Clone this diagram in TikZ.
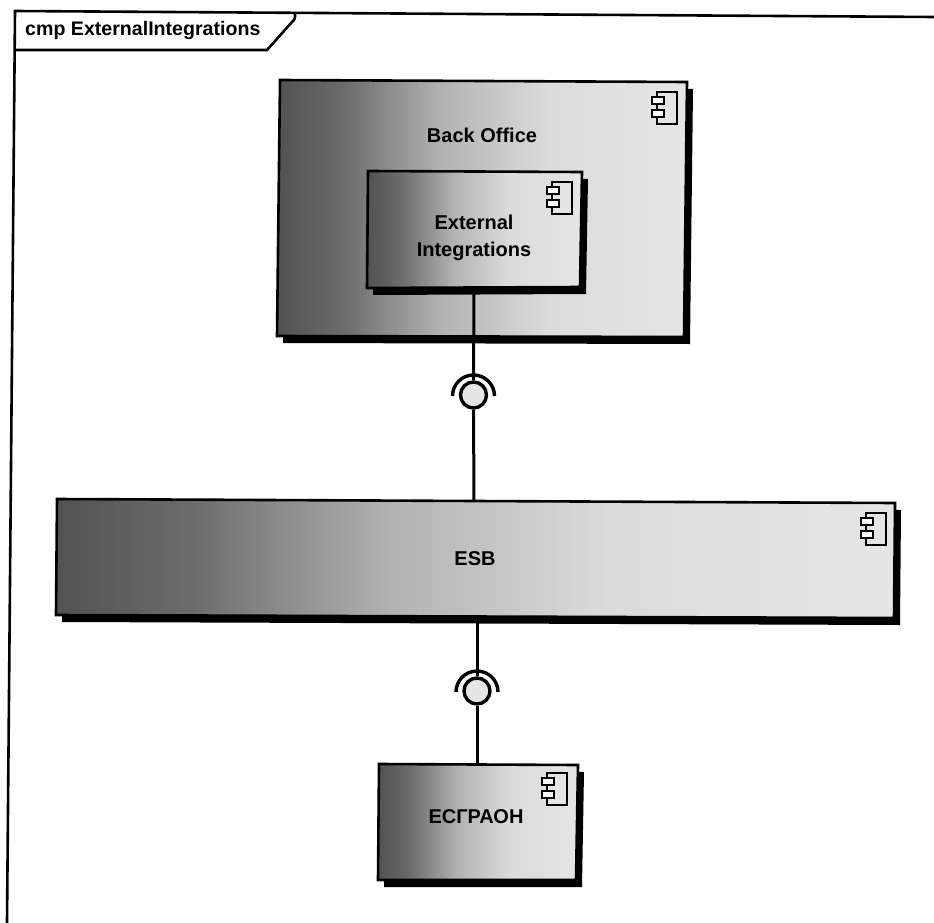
\documentclass[tikz,border=0pt]{standalone}
\usepackage{fontspec}
\setmainfont{Liberation Sans}
\usetikzlibrary{calc}

\pgfdeclarehorizontalshading{compfade}{100bp}{
  color(0bp)=(black!68); color(25bp)=(black!68); color(33bp)=(black!58);
  color(45bp)=(black!30); color(58bp)=(black!14); color(75bp)=(black!10); color(100bp)=(black!10)}

\tikzset{
  compbox/.style={draw=black, line width=2.6pt, shading=compfade, line join=miter},
  compshadow/.style={fill=black, shift={(6,7)}},
  lolliball/.style={circle, draw=black, line width=3.4pt, fill=black!10, minimum size=26pt, inner sep=0pt},
  wire/.style={line width=3pt},
  socket/.style={line width=3.4pt},
  glyphline/.style={line width=2.2pt},
  complabel/.style={font=\bfseries\fontsize{20pt}{27pt}\selectfont, align=center, text=black}
}

% box with hard shadow, corners clockwise from top left
\newcommand{\compbody}[4]{
  \fill[compshadow] #1 -- #2 -- #3 -- #4 -- cycle;
  \shade[compbox] #1 -- #2 -- #3 -- #4 -- cycle;
}

% small component glyph, top right corner given by #1
\newcommand{\compglyph}[1]{
  \draw[glyphline, fill=black!10] ($(#1)+(-21,0)$) rectangle ($(#1)+(-1,32)$);
  \draw[glyphline, fill=white] ($(#1)+(-26,5)$) rectangle ($(#1)+(-14,12)$);
  \draw[glyphline, fill=white] ($(#1)+(-26,18)$) rectangle ($(#1)+(-14,25)$);
}

\begin{document}
\begin{tikzpicture}[x=1pt, y=-1pt]

  % canvas
  \path[use as bounding box, fill=white] (0,0) rectangle (934,923);

  % frame and title tab
  \draw[line width=2.6pt] (934,17) -- (15,11) -- (7,923);
  \draw[line width=2.6pt] (15,50) -- (267,50) -- (292,22) .. controls (295,19) .. (295,14);
  \node[anchor=west, font=\bfseries\fontsize{19.6pt}{22pt}\selectfont, inner sep=0pt] (title) at (25,30) {cmp ExternalIntegrations};

  % Back Office
  \compbody{(280,80)}{(687,82)}{(684,337)}{(277,336)}
  \coordinate (backglyph) at (678,92);
  \compglyph{backglyph}
  \node[complabel] (backoffice) at (482,135) {Back Office};

  % External Integrations
  \compbody{(368,171)}{(582,172)}{(580,287)}{(367,288)}
  \coordinate (extglyph) at (573,182);
  \compglyph{extglyph}
  \node[complabel] (external) at (474,238) {External\\Integrations};

  % ESB
  \compbody{(57,499)}{(895,503)}{(894,618)}{(56,615)}
  \coordinate (esbglyph) at (887,513);
  \compglyph{esbglyph}
  \node[complabel] (esb) at (475,559) {ESB};

  % ЕСГРАОН
  \compbody{(379,764)}{(578,765)}{(576,880)}{(378,880)}
  \coordinate (esgglyph) at (568,773);
  \compglyph{esgglyph}
  \node[complabel] (esgraon) at (476,817) {ЕСГРАОН};

  % interfaces
  \coordinate (extbottom) at (474,294);
  \coordinate (esbtop) at (474,501);
  \coordinate (esbbottom) at (477,622);
  \coordinate (esgtop) at (477,764);
  \node[lolliball] (ballone) at (473.5,395) {};
  \node[lolliball] (balltwo) at (477,691) {};

  \draw[wire] (extbottom) -- (ballone.north);
  \draw[wire] (ballone.south) -- (esbtop);
  \draw[wire] (esbbottom) -- (balltwo.north);
  \draw[wire] (balltwo.south) -- (esgtop);

  % sockets
  \draw[socket] ($(ballone)+(-21,1)$) arc[start angle=180, end angle=360, radius=21];
  \draw[socket] ($(balltwo)+(-21,1)$) arc[start angle=180, end angle=360, radius=21];
\end{tikzpicture}
\end{document}
